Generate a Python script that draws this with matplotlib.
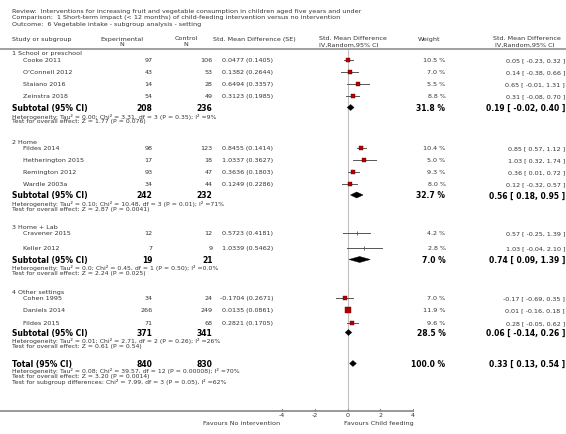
import matplotlib
matplotlib.use("Agg")
from matplotlib import pyplot as plt
from matplotlib.patches import Polygon
import numpy as np

# datos de los estudios
groups = ["1 School or preschool", "2 Home", "3 Home + Lab", "4 Other settings"]
names = [["Cooke 2011", "O'Connell 2012", "Staiano 2016", "Zeinstra 2018"],
         ["Fildes 2014", "Hetherington 2015", "Remington 2012", "Wardle 2003a"],
         ["Cravener 2015", "Keller 2012"],
         ["Cohen 1995", "Daniels 2014", "Fildes 2015"]]
exp_n = [[97, 43, 14, 54], [98, 17, 93, 34], [12, 7], [34, 266, 71]]
ctl_n = [[106, 53, 28, 49], [123, 18, 47, 44], [12, 9], [24, 249, 68]]
smd = [[0.0477, 0.1382, 0.6494, 0.3123], [0.8455, 1.0337, 0.3636, 0.1249],
       [0.5723, 1.0339], [-0.1704, 0.0135, 0.2821]]
se = [[0.1405, 0.2644, 0.3357, 0.1985], [0.1414, 0.3627, 0.1803, 0.2286],
      [0.4181, 0.5462], [0.2671, 0.0861, 0.1705]]
weight = [[10.5, 7.0, 5.5, 8.8], [10.4, 5.0, 9.3, 8.0], [4.2, 2.8], [7.0, 11.9, 9.6]]
ci_lo = [[-0.23, -0.38, -0.01, -0.08], [0.57, 0.32, 0.01, -0.32], [-0.25, -0.04],
         [-0.69, -0.16, -0.05]]
ci_hi = [[0.32, 0.66, 1.31, 0.70], [1.12, 1.74, 0.72, 0.57], [1.39, 2.10],
         [0.35, 0.18, 0.62]]

sub_exp = [208, 242, 19, 371]
sub_ctl = [236, 232, 21, 341]
sub_w = [31.8, 32.7, 7.0, 28.5]
sub_est = [0.19, 0.56, 0.74, 0.06]
sub_lo = [-0.02, 0.18, 0.09, -0.14]
sub_hi = [0.40, 0.95, 1.39, 0.26]
sub_het = ["Heterogeneity: Tau\u00b2 = 0.00; Chi\u00b2 = 3.31, df = 3 (P = 0.35); I\u00b2 =9%",
           "Heterogeneity: Tau\u00b2 = 0.10; Chi\u00b2 = 10.48, df = 3 (P = 0.01); I\u00b2 =71%",
           "Heterogeneity: Tau\u00b2 = 0.0; Chi\u00b2 = 0.45, df = 1 (P = 0.50); I\u00b2 =0.0%",
           "Heterogeneity: Tau\u00b2 = 0.01; Chi\u00b2 = 2.71, df = 2 (P = 0.26); I\u00b2 =26%"]
sub_test = ["Test for overall effect: Z = 1.77 (P = 0.076)",
            "Test for overall effect: Z = 2.87 (P = 0.0041)",
            "Test for overall effect: Z = 2.24 (P = 0.025)",
            "Test for overall effect: Z = 0.61 (P = 0.54)"]

tot_exp, tot_ctl, tot_w = 840, 830, 100.0
tot_est, tot_lo, tot_hi = 0.33, 0.13, 0.54
tot_notes = ["Heterogeneity: Tau\u00b2 = 0.08; Chi\u00b2 = 39.57, df = 12 (P = 0.00008); I\u00b2 =70%",
             "Test for overall effect: Z = 3.20 (P = 0.0014)",
             "Test for subgroup differences: Chi\u00b2 = 7.99, df = 3 (P = 0.05), I\u00b2 =62%"]

ticks = [-4, -2, 0, 2, 4]

# posiciones de filas (pixeles)
head_y = [54, 142.5, 228, 293]
row_y = [[60.5, 72.5, 84.5, 96.5], [148.5, 160.5, 172.5, 184.5], [233.5, 248.5],
         [299, 311, 323.5]]
sub_y = [108.5, 196, 260.5, 333.5]
tot_y = 364.5

W, H = 566, 435
x0, sc = 347.5, 16.4  # pixel del cero y pixeles por unidad

fig = plt.figure(figsize=(W / 100, H / 100), dpi=100)
ax = fig.add_axes([0, 0, 1, 1])
ax.axis('off')
ax.set_xlim(-x0 / sc, (W - x0) / sc)
ax.set_ylim(H, 0)
tr = ax.get_yaxis_transform()

fs = 4.6
fsn = 4.4
fsb = 5.5
gray = "#333333"


def txt(x, y, s, ha="left", size=fs, bold=False, color=gray):
    ax.text(x / W, y, s, transform=tr, ha=ha, va="center", fontsize=size,
            fontweight="bold" if bold else "normal", color=color)


# encabezado
txt(12, 11, "Review:  Interventions for increasing fruit and vegetable consumption in children aged five years and under")
txt(12, 17.5, "Comparison:  1 Short-term impact (< 12 months) of child-feeding intervention versus no intervention")
txt(12, 24.5, "Outcome:  6 Vegetable intake - subgroup analysis - setting")
txt(12, 39, "Study or subgroup")
txt(122, 39, "Experimental", ha="center")
txt(122, 45, "N", ha="center")
txt(186, 39, "Control", ha="center")
txt(186, 45, "N", ha="center")
txt(213, 39, "Std. Mean Difference (SE)")
txt(319, 39, "Std. Mean Difference")
txt(319, 45, "IV,Random,95% CI")
txt(418, 39, "Weight")
txt(493, 39, "Std. Mean Difference")
txt(495, 45, "IV,Random,95% CI")
ax.plot(ax.get_xlim(), [50, 50], color="#999999", lw=1.3, solid_capstyle="butt")

# linea del cero y eje
ax.plot([0, 0], [50, 412], color="#c0c0c0", lw=0.8, zorder=0)
ax.plot([ax.get_xlim()[0], 4], [412, 412], color="#888888", lw=1.2)
for t in ticks:
    ax.plot([t, t], [409.5, 412], color="#888888", lw=0.8)
    ax.text(t, 416, str(t), ha="center", va="center", fontsize=fs, color=gray)
txt(280, 424, "Favours No intervention", ha="right")
txt(344, 424, "Favours Child feeding")


def diamond(est, lo, hi, y, h=3.0):
    ax.add_patch(Polygon([(lo, y), (est, y - h), (hi, y), (est, y + h)],
                         closed=True, color="black", lw=0.3))


for g in range(len(groups)):
    txt(12, head_y[g], groups[g])
    for i in range(len(names[g])):
        y = row_y[g][i]
        txt(23, y, names[g][i])
        txt(152.5, y, str(exp_n[g][i]), ha="right")
        txt(212.5, y, str(ctl_n[g][i]), ha="right")
        txt(273, y, "%.4f (%.4f)" % (smd[g][i], se[g][i]), ha="right")
        txt(445.5, y, "%.1f %%" % weight[g][i], ha="right")
        txt(565, y, "%.2f [ %.2f, %.2f ]" % (round(smd[g][i], 2), ci_lo[g][i], ci_hi[g][i]),
            ha="right")
        ax.plot([ci_lo[g][i], ci_hi[g][i]], [y, y], color="#555555", lw=0.7, zorder=2)
        if g == 2:
            ax.plot([smd[g][i]], [y], marker="|", ms=2.5, color="#555555", mew=0.6)
        else:
            ax.plot([smd[g][i]], [y], marker="s", ms=1.1 * np.sqrt(weight[g][i]),
                    color="#b00000", mec="#700000", mew=0.3, zorder=3)
    y = sub_y[g]
    txt(12, y, "Subtotal (95% CI)", size=fsb, bold=True, color="black")
    txt(152.5, y, str(sub_exp[g]), ha="right", size=fsb, bold=True, color="black")
    txt(212.5, y, str(sub_ctl[g]), ha="right", size=fsb, bold=True, color="black")
    txt(445.5, y, "%.1f %%" % sub_w[g], ha="right", size=fsb, bold=True, color="black")
    txt(565, y, "%.2f [ %.2f, %.2f ]" % (sub_est[g], sub_lo[g], sub_hi[g]), ha="right",
        size=fsb, bold=True, color="black")
    diamond(sub_est[g], sub_lo[g], sub_hi[g], y)
    txt(12, y + 8, sub_het[g], size=fsn)
    txt(12, y + 13.5, sub_test[g], size=fsn)

txt(12, tot_y, "Total (95% CI)", size=fsb, bold=True, color="black")
txt(152.5, tot_y, str(tot_exp), ha="right", size=fsb, bold=True, color="black")
txt(212.5, tot_y, str(tot_ctl), ha="right", size=fsb, bold=True, color="black")
txt(445.5, tot_y, "%.1f %%" % tot_w, ha="right", size=fsb, bold=True, color="black")
txt(565, tot_y, "%.2f [ %.2f, %.2f ]" % (tot_est, tot_lo, tot_hi), ha="right",
    size=fsb, bold=True, color="black")
diamond(tot_est, tot_lo, tot_hi, tot_y)
for k, s in enumerate(tot_notes):
    txt(12, tot_y + 6.5 + 5.3 * k, s, size=fsn)

fig.savefig("out.png", dpi=100)
